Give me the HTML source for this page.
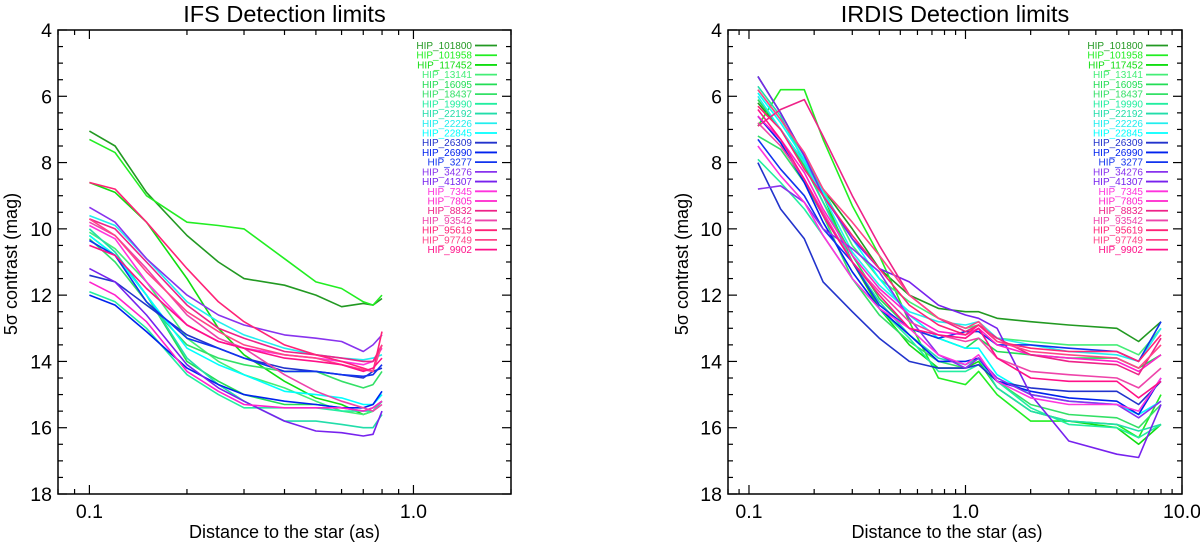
<!DOCTYPE html>
<html><head><meta charset="utf-8">
<style>
html,body{margin:0;padding:0;background:#fff;}
svg{display:block;font-family:"Liberation Sans",sans-serif;}
</style></head>
<body>
<svg id="fig" width="1200" height="542" viewBox="0 0 1200 542" xmlns="http://www.w3.org/2000/svg"></svg>
<script>
const names = ["HIP_101800","HIP_101958","HIP_117452","HIP_13141","HIP_16095","HIP_18437","HIP_19990","HIP_22192","HIP_22226","HIP_22845","HIP_26309","HIP_26990","HIP_3277","HIP_34276","HIP_41307","HIP_7345","HIP_7805","HIP_8832","HIP_93542","HIP_95619","HIP_97749","HIP_9902"];
const colors = ["#229922","#22ee22","#11dd11","#44ee77","#22dd55","#33e066","#22eea0","#22ddaa","#22eeee","#00ffff","#2233cc","#0022ee","#1133ee","#8833ee","#7722ee","#ff33dd","#ff22cc","#ee2288","#ee44aa","#ff2277","#ff4488","#ff1188"];
const yTicks = [4,6,8,10,12,14,16,18];

// IFS
const ifsX = [0.1,0.12,0.15,0.2,0.25,0.3,0.4,0.5,0.6,0.7,0.75,0.8];
const ifsY = [
[7.05,7.5,8.9,10.2,11.0,11.5,11.7,12.0,12.35,12.25,12.3,12.1],
[7.3,7.7,9.0,9.8,9.9,10.0,10.9,11.6,11.8,12.2,12.3,12.0],
[8.6,8.9,9.8,11.5,13.0,13.8,14.6,15.1,15.3,15.6,15.5,15.2],
[10.1,10.6,11.6,13.3,14.0,14.4,14.8,15.2,15.5,15.6,15.5,15.2],
[10.2,10.8,12.0,14.0,14.6,15.0,15.3,15.3,15.4,15.5,15.4,15.2],
[10.3,11.0,12.2,13.5,13.9,14.1,14.3,14.3,14.6,14.8,14.7,14.3],
[11.9,12.2,13.0,14.4,15.0,15.4,15.4,15.4,15.5,15.5,15.5,15.2],
[10.0,10.7,12.0,13.9,14.7,15.2,15.8,15.8,15.9,16.0,16.0,15.6],
[9.6,9.9,10.9,12.2,12.8,13.2,13.6,13.8,13.9,13.95,13.9,13.8],
[10.2,10.8,12.0,13.6,14.1,14.4,14.9,15.0,15.1,15.3,15.3,15.0],
[11.4,11.6,12.3,13.2,13.6,13.9,14.2,14.3,14.4,14.5,14.3,14.2],
[12.0,12.3,13.1,14.2,14.7,15.0,15.2,15.3,15.4,15.4,15.3,14.9],
[10.35,10.8,12.2,13.3,13.6,13.9,14.3,14.3,14.4,14.45,14.4,14.1],
[9.35,9.8,10.9,12.0,12.6,12.9,13.2,13.3,13.4,13.7,13.5,13.2],
[11.2,11.6,12.6,14.1,14.8,15.2,15.8,16.1,16.15,16.25,16.2,15.5],
[9.9,10.3,11.6,12.9,13.4,13.6,13.8,13.9,14.0,14.1,14.0,13.6],
[11.6,12.0,12.8,14.3,14.9,15.3,15.4,15.4,15.4,15.5,15.4,15.2],
[9.7,10.0,11.0,12.3,13.0,13.3,13.7,13.8,13.9,14.0,14.0,13.5],
[9.8,10.2,11.2,12.6,13.3,13.6,14.4,14.9,15.2,15.4,15.5,15.3],
[8.6,8.8,9.8,11.2,12.2,12.8,13.5,13.8,14.0,14.2,14.3,13.1],
[9.7,10.2,11.3,12.5,13.1,13.5,13.8,13.9,14.1,14.25,14.3,13.5],
[10.5,10.8,11.8,12.9,13.4,13.6,13.9,14.0,14.1,14.3,14.2,13.9]
];

// IRDIS
const irdX = [0.11,0.14,0.18,0.22,0.3,0.4,0.55,0.75,1.0,1.15,1.4,2,3,5,6.3,8];
const irdY = [
[6.2,7.0,8.0,8.8,10.0,11.2,12.0,12.4,12.5,12.5,12.7,12.8,12.9,13.0,13.4,12.8],
[6.9,5.8,5.8,7.3,9.3,10.8,12.8,14.5,14.7,14.3,15.0,15.8,15.8,15.9,16.3,15.0],
[5.4,6.5,7.8,9.0,11.0,12.4,13.5,14.2,14.2,14.0,14.8,15.5,15.8,16.0,16.5,15.9],
[5.8,6.7,7.8,8.8,10.5,11.5,12.2,12.7,13.0,12.9,13.3,13.4,13.5,13.5,13.8,13.0],
[6.1,7.0,8.1,9.2,10.8,12.1,13.0,13.3,13.6,13.3,13.7,13.8,13.9,13.9,14.2,13.8],
[7.2,7.6,8.6,9.6,11.5,12.6,13.4,14.0,14.2,13.9,14.6,15.3,15.6,15.7,16.0,15.3],
[7.9,8.6,9.4,10.2,11.5,12.4,13.3,14.3,14.3,14.1,14.6,15.4,15.9,16.0,16.3,15.9],
[5.7,6.6,8.0,9.2,11.0,12.2,13.2,13.9,14.1,13.9,14.8,15.5,15.8,15.9,16.1,15.9],
[6.0,7.0,8.0,9.0,10.7,11.7,12.5,12.8,12.9,12.8,13.3,13.5,13.7,13.8,14.0,13.0],
[5.9,6.8,7.9,8.9,10.3,11.5,12.6,13.3,13.6,13.6,14.4,15.0,15.2,15.3,15.6,15.2],
[8.0,9.4,10.3,11.6,12.5,13.3,14.0,14.2,14.2,14.1,14.6,14.8,14.9,14.9,15.3,14.6],
[6.6,7.4,8.6,9.8,11.3,12.4,13.2,14.0,14.0,13.9,14.6,14.9,15.1,15.2,15.6,14.5],
[7.3,8.2,9.0,10.0,11.0,12.3,13.0,13.3,13.1,13.1,13.5,13.5,13.6,13.7,14.0,12.8],
[8.8,8.7,9.2,10.0,10.6,11.3,12.7,13.8,14.2,13.9,14.5,15.0,15.2,15.3,15.7,15.2],
[5.4,6.5,7.8,9.0,10.3,11.2,11.6,12.3,12.6,12.7,13.0,15.0,16.4,16.8,16.9,15.3],
[7.5,8.4,9.2,10.2,11.5,12.4,13.0,13.8,14.1,13.8,14.6,15.1,15.3,15.3,15.5,14.5],
[6.6,7.3,8.3,9.4,10.8,11.8,12.6,13.1,13.2,13.0,13.5,13.8,13.9,14.0,14.3,13.8],
[6.9,6.4,6.1,7.2,9.0,10.5,12.0,12.7,13.1,12.9,13.3,13.8,14.0,14.1,14.4,13.3],
[6.8,7.5,8.5,9.5,11.0,11.9,12.8,13.2,13.4,13.3,13.9,14.3,14.4,14.5,14.8,14.2],
[6.3,7.0,8.2,9.0,10.2,11.2,12.3,12.9,13.2,12.9,13.4,13.6,13.7,13.7,14.0,13.2],
[5.8,6.7,7.7,8.8,9.8,10.8,12.0,12.7,13.0,12.8,13.4,13.7,13.8,13.9,14.2,13.5],
[6.4,7.3,8.5,9.6,11.0,12.0,13.0,13.2,13.3,13.0,13.9,14.5,14.6,14.6,15.1,14.6]
];

const NS = "http://www.w3.org/2000/svg";
const svg = document.getElementById('fig');
function mk(tag, attrs, parent){ const e=document.createElementNS(NS,tag); for(const k in attrs) e.setAttribute(k,attrs[k]); (parent||svg).appendChild(e); return e; }

function panel(cfg){
  const g = mk('g',{});
  
  
  const L=cfg.L,R=cfg.R,T=30,B=494;
  const lx0=Math.log10(cfg.xmin), lx1=Math.log10(cfg.xmax);
  const xs = v => L + (Math.log10(v)-lx0)/(lx1-lx0)*(R-L);
  const ys = v => T + (v-4)/(18-4)*(B-T);
  const t = mk('text',{x:(L+R)/2,y:22,'text-anchor':'middle','font-size':23.5,fill:'#000'},g);
  t.textContent = cfg.title;
  
  
  const sg = mk('g',{fill:'none','stroke-width':1.6,'stroke-linejoin':'round'},g);
  cfg.Y.forEach((arr,i)=>{
    const d = arr.map((v,j)=>(j?'L':'M')+xs(cfg.X[j]).toFixed(1)+','+ys(v).toFixed(1)).join(' ');
    const p = mk('path',{d:d,stroke:colors[i]},sg);
    
    
  });
  const fr = mk('rect',{x:L,y:T,width:R-L,height:B-T,fill:'none',stroke:'#000','stroke-width':1.5},g);
  
  
  for(let v=4; v<=18; v+=0.5){
    const major = (v%2===0); const len = major?9:5; const y=ys(v);
    mk('line',{x1:L,x2:L+len,y1:y,y2:y,stroke:'#000','stroke-width':1.2},g);
    mk('line',{x1:R,x2:R-len,y1:y,y2:y,stroke:'#000','stroke-width':1.2},g);
  }
  yTicks.forEach(v=>{
    const tx = mk('text',{x:L-6,y:ys(v)+7,'text-anchor':'end','font-size':19.5,fill:'#000'},g);
    tx.textContent = v;
    
    
  });
  for(let d=-2; d<=1; d++){
    for(let m=1; m<=9; m++){
      const v = m*Math.pow(10,d);
      if(v<cfg.xmin-1e-9 || v>cfg.xmax+1e-9) continue;
      const x=xs(v); const len = m===1?9:5;
      mk('line',{x1:x,x2:x,y1:B,y2:B-len,stroke:'#000','stroke-width':1.2},g);
      mk('line',{x1:x,x2:x,y1:T,y2:T+len,stroke:'#000','stroke-width':1.2},g);
    }
  }
  cfg.xLabels.forEach(v=>{
    const tx = mk('text',{x:xs(v),y:518,'text-anchor':'middle','font-size':19.5,fill:'#000'},g);
    tx.textContent = v.toFixed(1);
    
    
  });
  const xt = mk('text',{x:(L+R)/2 - (cfg.id==='irdis'?8:0),y:538,'text-anchor':'middle','font-size':18,fill:'#000'},g);
  xt.textContent = 'Distance to the star (as)';
  
  
  const yt = mk('text',{x:0,y:0,'text-anchor':'middle','font-size':18,fill:'#000',transform:`translate(${cfg.ytx},264) rotate(-90)`},g);
  yt.textContent = '5σ contrast (mag)';
  
  
  const lg = mk('g',{},g);
  
  
  names.forEach((n,i)=>{
    const y = 45.5 + i*9.72;
    const e = mk('g',{},lg);
    
    
    const tx = mk('text',{x:cfg.legX,y:y+3.5,'text-anchor':'end','font-size':10,fill:colors[i]},e);
    tx.textContent = n;
    mk('line',{x1:cfg.legX+3,x2:cfg.legX+25,y1:y,y2:y,stroke:colors[i],'stroke-width':1.8},e);
  });
}

panel({id:'ifs',title:'IFS Detection limits',L:58,R:511,xmin:0.08,xmax:2.0,X:ifsX,Y:ifsY,xLabels:[0.1,1.0],ytx:17,legX:472});
panel({id:'irdis',title:'IRDIS Detection limits',L:728,R:1182,xmin:0.08,xmax:10,X:irdX,Y:irdY,xLabels:[0.1,1.0,10.0],ytx:688,legX:1143});
</script>
</body></html>
